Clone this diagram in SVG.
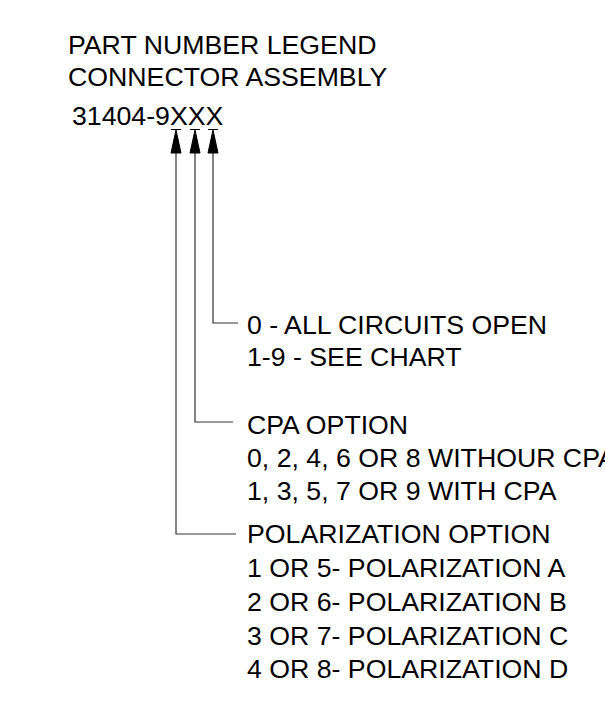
<svg xmlns="http://www.w3.org/2000/svg" width="605" height="720" viewBox="0 0 605 720">
<style>
text{font-family:"Liberation Sans",Arial,sans-serif;font-size:26.7px;fill:#000}
.ln{fill:none;stroke:#333;stroke-width:1.2}
.ah{fill:#000;stroke:#000;stroke-width:1}
</style>
<rect width="605" height="720" fill="#fff"/>
<g id="title">
<text x="68" y="54">PART NUMBER LEGEND</text>
<text x="68" y="86">CONNECTOR ASSEMBLY</text>
<text x="72" y="125">31404-9XXX</text>
</g>
<g id="connectors">
<path class="ln" d="M213 152V323H238"/>
<path class="ln" d="M195 152V422H233"/>
<path class="ln" d="M176 152V534H236"/>
<path class="ah" d="M213 130L208 153H218Z M208 129.5H218"/>
<path class="ah" d="M195 130L190 153H200Z M190 129.5H200"/>
<path class="ah" d="M176 130L171 153H181Z M171 129.5H181"/>
</g>
<g id="circuits">
<text x="247" y="334">0 - ALL CIRCUITS OPEN</text>
<text x="247" y="366">1-9 - SEE CHART</text>
</g>
<g id="cpa">
<text x="247" y="434">CPA OPTION</text>
<text x="247" y="467">0, 2, 4, 6 OR 8 WITHOUR CPA</text>
<text x="247" y="500">1, 3, 5, 7 OR 9 WITH CPA</text>
</g>
<g id="polarization">
<text x="247" y="543">POLARIZATION OPTION</text>
<text x="247" y="577">1 OR 5- POLARIZATION A</text>
<text x="247" y="611">2 OR 6- POLARIZATION B</text>
<text x="247" y="645">3 OR 7- POLARIZATION C</text>
<text x="247" y="678">4 OR 8- POLARIZATION D</text>
</g>
</svg>
